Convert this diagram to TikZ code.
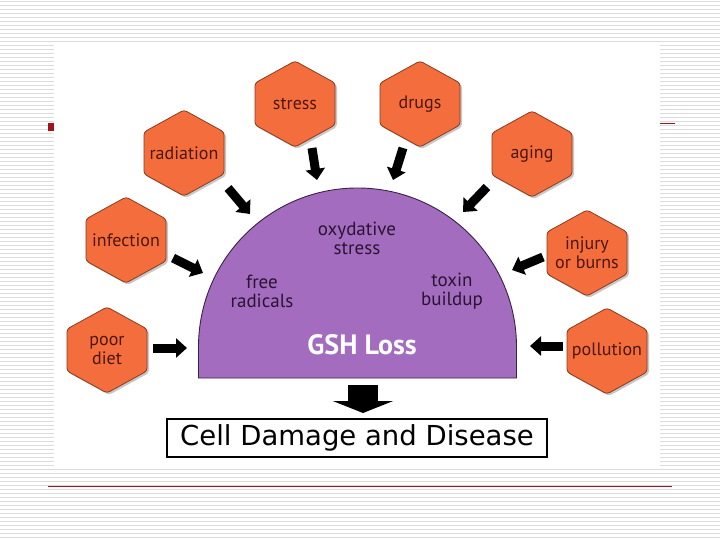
\documentclass[tikz,border=0pt]{standalone}
\usepackage{fontspec}
\setmainfont{PT Sans}
\newfontfamily\verd{DejaVu Sans}
\usetikzlibrary{arrows.meta,calc}
\definecolor{hexor}{HTML}{F36E3C}
\definecolor{hexline}{HTML}{8A3B1E}
\definecolor{hextext}{HTML}{4E160C}
\definecolor{gshpurple}{HTML}{A36CBE}
\definecolor{gshline}{HTML}{3A2245}
\definecolor{gshtext}{HTML}{2B1433}
\definecolor{stripe}{HTML}{DCDCDC}
\definecolor{slidered}{HTML}{A0141E}
\tikzset{
  stripeline/.style={draw=stripe, line width=1.3pt},
  hexbody/.style={fill=hexor, draw=hexline, line width=0.8pt, rounded corners=3pt},
  hexshadow/.style={fill=black, opacity=0.22, rounded corners=3pt},
  hexlabel/.style={text=hextext, font=\fontsize{18}{19}\selectfont, align=center, inner sep=0pt},
  gshlabel/.style={text=gshtext, font=\fontsize{19}{19}\selectfont, align=center, inner sep=0pt},
  blockarrow/.style={draw=black, line width=9pt, -{Triangle[width=19pt,length=11pt]}},
  bigarrow/.style={draw=black, line width=30pt, -{Triangle[width=60pt,length=12pt]}},
}
\newcommand\HexNode[4]{%
  \fill[hexshadow] (#2+2,#3-41) -- ++(40,22) -- ++(0,42) -- ++(-40,22) -- ++(-40,-22) -- ++(0,-42) -- cycle;
  \filldraw[hexbody] (#2,#3-43) -- ++(40,22) -- ++(0,42) -- ++(-40,22) -- ++(-40,-22) -- ++(0,-42) -- cycle;
  \node[hexlabel] (#1) at (#2,#3) {#4};
}
\begin{document}
\begin{tikzpicture}[x=1pt,y=-1pt]
\useasboundingbox (0,0) rectangle (720,540);
% striped slide background
\foreach \i in {0,...,134} \draw[stripeline] (0,4*\i+1.5) -- (720,4*\i+1.5);
% slide decorations
\fill[slidered] (48,123) rectangle (58,131);
\draw[slidered, line width=1pt] (600,123.5) -- (675,123.5);
\draw[slidered, line width=1.4pt] (48,486.5) -- (672,486.5);
% white picture area
\fill[white] (54,45) rectangle (660,468);
% GSH half disc
\filldraw[fill=gshpurple, draw=gshline, line width=0.9pt]
  (198.5,378) -- (198.5,347) arc[start angle=180, end angle=0, radius=159pt] -- (516.5,378) -- cycle;
\node[gshlabel] (oxy) at (357,238) {oxydative\\stress};
\node[gshlabel] (free) at (262,291) {free\\radicals};
\node[gshlabel] (toxin) at (452,291) {toxin\\buildup};
\node[text=white, font=\bfseries\fontsize{28}{28}\selectfont, inner sep=0pt] (gsh) at (362,345) {GSH Loss};
% hexagons
\HexNode{stress}{295}{104}{stress}
\HexNode{drugs}{420}{104}{drugs}
\HexNode{radiation}{184}{153}{radiation}
\HexNode{aging}{532}{154}{aging}
\HexNode{infection}{126}{240}{infection}
\HexNode{injury}{587}{253}{injury\\or burns}
\HexNode{diet}{107}{350}{poor\\diet}
\HexNode{pollution}{607}{351}{pollution}
% arrow end points
\coordinate (stress-a) at (312,148);    \coordinate (stress-b) at (317,180);
\coordinate (drugs-a) at (403,148);     \coordinate (drugs-b) at (393,180);
\coordinate (radiation-a) at (228,188); \coordinate (radiation-b) at (250,214);
\coordinate (aging-a) at (487,187);     \coordinate (aging-b) at (463,212);
\coordinate (infection-a) at (173,258); \coordinate (infection-b) at (203,273);
\coordinate (injury-a) at (543,257);    \coordinate (injury-b) at (512,270);
\coordinate (diet-a) at (153,348);      \coordinate (diet-b) at (187,348);
\coordinate (pollution-a) at (563,346); \coordinate (pollution-b) at (530,346);
\coordinate (down-a) at (363,385);      \coordinate (down-b) at (363,413);
\foreach \n in {stress,drugs,radiation,aging,infection,injury,diet,pollution}
  \draw[blockarrow] (\n-a) -- (\n-b);
\draw[bigarrow] (down-a) -- (down-b);
% result box
\node[draw=black, line width=1.3pt, fill=white, minimum width=380pt, minimum height=38pt, inner sep=0pt,
      font=\verd\fontsize{27.5}{28}\selectfont] (cell) at (357,438) {\raisebox{-2pt}{Cell Damage and Disease}};
\end{tikzpicture}
\end{document}
